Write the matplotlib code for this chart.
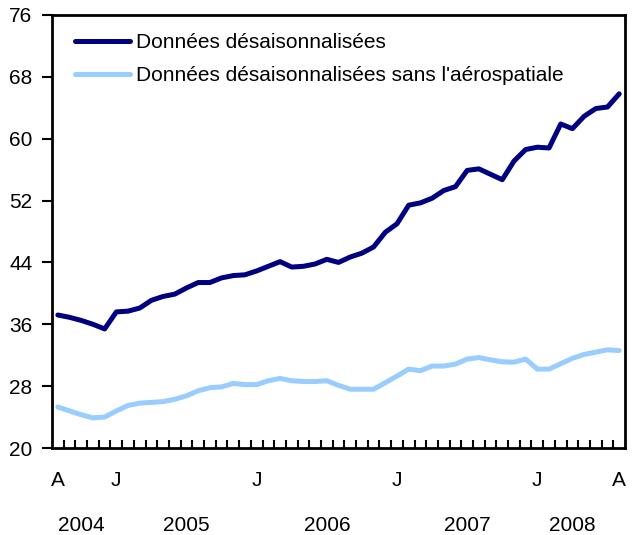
import matplotlib.pyplot as plt
import matplotlib.transforms as mtransforms
import numpy as np

plt.rcParams['font.family'] = ['Liberation Sans', 'DejaVu Sans']

# Monthly data, August 2004 to August 2008
total = [37.2, 36.9, 36.5, 36.0, 35.4, 37.6, 37.7, 38.1, 39.1, 39.6,
         39.9, 40.7, 41.4, 41.4, 42.0, 42.3, 42.4, 42.9, 43.5, 44.1,
         43.4, 43.5, 43.8, 44.4, 44.0, 44.7, 45.2, 46.0, 47.9, 49.0,
         51.4, 51.7, 52.3, 53.3, 53.8, 55.9, 56.1, 55.4, 54.7, 57.1,
         58.6, 58.9, 58.8, 61.9, 61.3, 62.9, 63.9, 64.1, 65.8]
sans_aero = [25.3, 24.8, 24.3, 23.9, 24.0, 24.8, 25.5, 25.8, 25.9, 26.0,
             26.3, 26.75, 27.4, 27.8, 27.9, 28.35, 28.2, 28.2, 28.7, 29.0,
             28.7, 28.6, 28.6, 28.7, 28.1, 27.6, 27.6, 27.6, 28.45, 29.3,
             30.2, 30.0, 30.6, 30.6, 30.85, 31.5, 31.7, 31.4, 31.15, 31.1,
             31.5, 30.2, 30.2, 30.9, 31.6, 32.1, 32.4, 32.7, 32.6]
labels = ["Données désaisonnalisées",
          "Données désaisonnalisées sans l'aérospatiale"]

month_pos = [0, 5, 17, 29, 41, 48]
month_lbl = ["A", "J", "J", "J", "J", "A"]
year_pos = [2, 11, 23, 35, 44]
year_lbl = ["2004", "2005", "2006", "2007", "2008"]

x = np.arange(len(total))
fs = 15

fig = plt.figure(figsize=(6.32, 5.35), dpi=100)
ax = fig.add_axes([0.0823, 0.1626, 0.9067, 0.8094])

ax.plot(x, total, color='#000080', lw=3.6, label=labels[0], solid_capstyle='round')
ax.plot(x, sans_aero, color='#99ccff', lw=3.6, label=labels[1], solid_capstyle='round')

ax.set_xlim(-0.5, len(total) - 0.5)
ax.set_ylim(20, 76)
ax.set_yticks(np.arange(20, 77, 8))
ax.tick_params(axis='y', direction='out', length=7, width=1.5, pad=7, labelsize=fs)

ax.set_xticks(np.arange(0.5, len(total) - 1, 1.0))
ax.set_xticklabels([])
ax.tick_params(axis='x', direction='in', length=6, width=1.5)

for s in ax.spines.values():
    s.set_linewidth(2)

trans = mtransforms.blended_transform_factory(ax.transData, ax.transAxes)
for p, l in zip(month_pos, month_lbl):
    ax.text(p, -0.075, l, transform=trans, ha='center', va='center', fontsize=fs)
for p, l in zip(year_pos, year_lbl):
    ax.text(p, -0.18, l, transform=trans, ha='center', va='center', fontsize=fs)

ax.legend(loc='upper left', frameon=False, fontsize=fs, handlelength=2.65,
          handletextpad=0.25, labelspacing=0.7, borderaxespad=0,
          bbox_to_anchor=(0.026, 0.978))

fig.savefig('out.png', dpi=100)
